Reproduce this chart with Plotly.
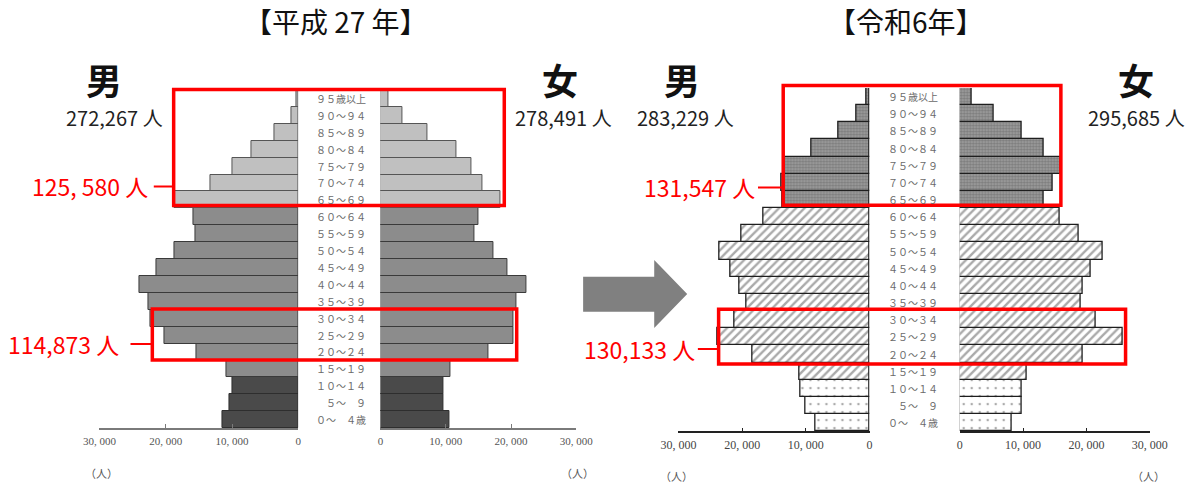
import plotly.graph_objects as go

W, H = 1194, 485

# Age groups, youngest first
ages = ["０～　４歳", "　５～　９", "１０～１４", "１５～１９", "２０～２４",
        "２５～２９", "３０～３４", "３５～３９", "４０～４４", "４５～４９",
        "５０～５４", "５５～５９", "６０～６４", "６５～６９", "７０～７４",
        "７５～７９", "８０～８４", "８５～８９", "９０～９４", "９５歳以上"]

# 平成27年 population by age group
male_h27 = [11490, 10330, 9925, 10910, 15320, 20140, 22280, 22580, 23970, 21420,
            18690, 15440, 15845, 18640, 13290, 9920, 7140, 3600, 1045, 290]
female_h27 = [10640, 9710, 9590, 10760, 16490, 20290, 20350, 20880, 22300, 19500,
              17250, 14390, 14970, 18360, 15650, 13900, 11700, 7250, 3330, 1170]

# 令和6年 population by age group
male_r6 = [8500, 10020, 10770, 11010, 18400, 23900, 21230, 19390, 20440, 21840,
           23560, 20180, 16660, 13650, 13890, 13280, 9140, 4950, 1980, 410]
female_r6 = [8270, 9730, 9850, 10640, 19450, 25700, 21450, 19030, 19450, 20600,
             22500, 18840, 15850, 13310, 14670, 16000, 13310, 9730, 5350, 1880]

titles = ["【平成 27 年】", "【令和6年】"]
totals = [("272,267 人", "278,491 人"), ("283,229 人", "295,685 人")]
callouts = ["125, 580 人", "114,873 人", "131,547 人", "130,133 人"]
tick_vals = [0, 10000, 20000, 30000]
tick_text = ["0", "10, 000", "20, 000", "30, 000"]

# age bands: 0-14, 15-64, 65+
bands = [slice(0, 3), slice(3, 13), slice(13, 20)]


def px(x):
    return x / W


def py(y):
    return 1 - y / H


fig = go.Figure()

# ---- bar styles ----
h27_styles = [
    dict(color="#4a4a4a", line=dict(color="#2e2e2e", width=1)),
    dict(color="#8c8c8c", line=dict(color="#3a3a3a", width=1)),
    dict(color="#c0c0c0", line=dict(color="#555555", width=1)),
]
r6_styles = [
    dict(color="#ffffff", line=dict(color="#1e1e1e", width=1.3),
         pattern=dict(shape=".", fgcolor="#555555", bgcolor="#ffffff",
                      size=8, solidity=0.08)),
    dict(color="#ffffff", line=dict(color="#1e1e1e", width=1.3),
         pattern=dict(shape="/", fgcolor="#555555", bgcolor="#ffffff",
                      size=6, solidity=0.4)),
    dict(color="#8a8a8a", line=dict(color="#1e1e1e", width=1.3),
         pattern=dict(shape=".", fgcolor="#555555", bgcolor="#a0a0a0",
                      size=3, solidity=0.5)),
]

panels = [
    dict(male=male_h27, female=female_h27, xm="x", xf="x2", y="y", styles=h27_styles),
    dict(male=male_r6, female=female_r6, xm="x3", xf="x4", y="y2", styles=r6_styles),
]

for p in panels:
    for band, style in zip(bands, p["styles"]):
        for vals, xa in ((p["male"], p["xm"]), (p["female"], p["xf"])):
            fig.add_trace(go.Bar(
                y=ages[band], x=vals[band], orientation="h",
                xaxis=xa, yaxis=p["y"], width=1,
                marker=style, showlegend=False, hoverinfo="x+y",
            ))


# ---- axes ----
def xaxis_cfg(dom, reverse, anchor, line_color, font_size, font_color):
    return dict(
        domain=[px(dom[0]), px(dom[1])],
        range=[30000, 0] if reverse else [0, 30000],
        anchor=anchor, showgrid=False, zeroline=False,
        showline=True, linecolor=line_color, linewidth=1.5,
        ticks="inside", ticklen=4, tickwidth=1.2, tickcolor=line_color,
        tickvals=tick_vals, ticktext=tick_text,
        tickfont=dict(family="Liberation Serif", size=font_size, color=font_color),
        ticklabelstandoff=2, fixedrange=True,
    )


def yaxis_cfg(top, bottom):
    return dict(
        domain=[py(bottom), py(top)], type="category",
        categoryorder="array", categoryarray=ages, range=[-0.5, 19.5],
        showticklabels=False, showgrid=False, zeroline=False,
        showline=False, ticks="", fixedrange=True,
    )


fig.update_layout(
    width=W, height=H,
    margin=dict(l=0, r=0, t=0, b=0),
    paper_bgcolor="white", plot_bgcolor="rgba(0,0,0,0)",
    barmode="overlay", bargap=0,
    xaxis=xaxis_cfg((84, 289), True, "y", "#7a7a7a", 11, "#555555"),
    xaxis2=xaxis_cfg((373.7, 575.7), False, "y", "#7a7a7a", 11, "#555555"),
    xaxis3=xaxis_cfg((681, 878), True, "y2", "#222222", 12, "#444444"),
    xaxis4=xaxis_cfg((971, 1167), False, "y2", "#222222", 12, "#444444"),
    yaxis=yaxis_cfg(90, 428),
    yaxis2=yaxis_cfg(88.1, 431.3),
    font=dict(family="Noto Sans CJK JP"),
)

ann = []


def text(x, y, s, size, color="#111111", bold=False, family="Noto Sans CJK JP",
         xanchor="center"):
    ann.append(dict(
        x=px(x), y=py(y), xref="paper", yref="paper", text=f"<b>{s}</b>" if bold else s,
        showarrow=False, xanchor=xanchor, yanchor="middle",
        font=dict(family=family, size=size, color=color),
    ))


# age labels in the centre column
for yref, x0 in (("y", 305), ("y2", 895)):
    for a in ages:
        ann.append(dict(
            x=px(x0), y=a, xref="paper", yref=yref, text=a, showarrow=False,
            xanchor="left", yanchor="middle",
            font=dict(family="Noto Sans CJK JP", size=10, color="#6a6a6a"),
        ))

# titles
text(328, 21, titles[0], 28)
text(916, 21, titles[1], 28)

# sex headings and totals
text(89, 79, "男", 36, bold=True)
text(559, 79, "女", 36, bold=True)
text(100, 117, totals[0][0], 20, "#222222")
text(562, 117, totals[0][1], 20, "#222222")
text(685, 79, "男", 36, bold=True)
text(1153, 79, "女", 36, bold=True)
text(688, 117, totals[1][0], 20, "#222222")
text(1153, 117, totals[1][1], 20, "#222222")

# unit labels
for x, y in ((86, 473), (577, 473), (679, 476), (1166, 476)):
    text(x, y, "（人）", 11, "#555555")

RED = "#ff0000"
# red callout texts
text(136, 186, callouts[0], 23, RED, xanchor="right")
text(106.6, 344, callouts[1], 23, RED, xanchor="right")
text(762, 187, callouts[2], 23, RED, xanchor="right")
text(700, 349, callouts[3], 23, RED, xanchor="right")

shapes = []


def rect(x0, y0, x1, y1):
    shapes.append(dict(type="rect", xref="paper", yref="paper",
                       x0=px(x0), x1=px(x1), y0=py(y1), y1=py(y0),
                       line=dict(color=RED, width=3.5), layer="above"))


def hline(x0, x1, y):
    shapes.append(dict(type="line", xref="paper", yref="paper",
                       x0=px(x0), x1=px(x1), y0=py(y), y1=py(y),
                       line=dict(color=RED, width=2), layer="above"))


rect(160.5, 89.5, 501.4, 205.5)
rect(138.5, 309, 514.2, 360)
rect(789, 85.5, 1075.3, 205.3)
rect(722.4, 309.3, 1142, 364)
hline(140, 160.5, 186.5)
hline(116, 138.5, 344)
hline(763, 789, 187.5)
hline(701, 722.4, 349)

# block arrow between the two pyramids
arrow_pts = [(582.7, 276.7), (656, 276.7), (656, 260), (690, 294),
             (656, 328), (656, 311.7), (582.7, 311.7)]
path = "M " + " L ".join(f"{px(x):.5f},{py(y):.5f}" for x, y in arrow_pts) + " Z"
shapes.append(dict(type="path", xref="paper", yref="paper", path=path,
                   fillcolor="#808080", line=dict(width=0), layer="above"))

fig.update_layout(annotations=ann, shapes=shapes)

fig.write_html("out.html")
